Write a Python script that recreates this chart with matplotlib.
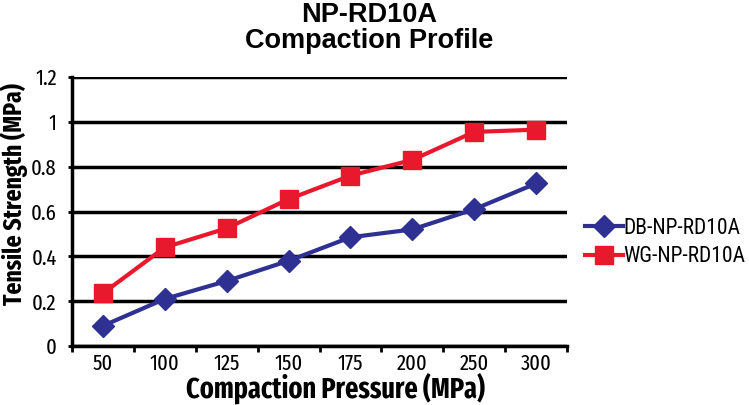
import matplotlib.pyplot as plt

pressure = ['50', '100', '125', '150', '175', '200', '250', '300']
db_strength = [0.09, 0.21, 0.29, 0.38, 0.485, 0.52, 0.61, 0.725]
wg_strength = [0.235, 0.44, 0.525, 0.655, 0.76, 0.83, 0.955, 0.965]

narrow = ['Fira Sans Extra Condensed', 'Roboto Condensed', 'DejaVu Sans']
plt.rcParams['font.family'] = ['Roboto Condensed', 'DejaVu Sans']

W, H = 749, 405
fig = plt.figure(figsize=(W / 100, H / 100), dpi=100)
ax = fig.add_axes([72 / W, 1 - 346 / H, (567 - 72) / W, (346 - 77) / H])

x = range(len(pressure))
ax.plot(x, db_strength, color='#2E3192', lw=3, marker='D', ms=11, label='DB-NP-RD10A')
ax.plot(x, wg_strength, color='#E8192C', lw=3, marker='s', ms=12.5, label='WG-NP-RD10A')

ax.set_xlim(-0.5, len(pressure) - 0.5)
ax.set_ylim(0, 1.2)
ax.set_yticks([0, 0.2, 0.4, 0.6, 0.8, 1, 1.2])
ax.set_yticklabels(['0', '0.2', '0.4', '0.6', '0.8', '1', '1.2'], family=narrow, fontsize=16)
ax.set_xticks(list(x))
ax.set_xticklabels(pressure, family=narrow, fontsize=16)
ax.set_xticks([i + 0.5 for i in range(-1, len(pressure))], minor=True)
ax.tick_params(axis='x', which='major', length=0, pad=5)
ax.tick_params(axis='x', which='minor', length=4, width=2, direction='out')
ax.tick_params(axis='y', length=3, width=2, pad=8)
ax.grid(axis='y', color='black', lw=2.5)
ax.set_axisbelow(True)
for s in ['top', 'right']:
    ax.spines[s].set_visible(False)
ax.spines['left'].set_linewidth(2.5)
ax.spines['bottom'].set_linewidth(2.5)

fig.text(336 / W, 1 - 388 / H, 'Compaction Pressure (MPa)', ha='center', va='center',
         family=narrow, fontsize=20.5, fontweight='bold')
fig.text(14 / W, 1 - 194 / H, 'Tensile Strength (MPa)', ha='center', va='center',
         rotation=90, family=narrow, fontsize=18.5, fontweight='bold')
fig.text(369 / W, 1 - 15 / H, 'NP-RD10A', ha='center', va='center',
         family=['Liberation Sans', 'DejaVu Sans'], fontsize=19.5, fontweight='bold')
fig.text(369 / W, 1 - 41 / H, 'Compaction Profile', ha='center', va='center',
         family=['Liberation Sans', 'DejaVu Sans'], fontsize=19.5, fontweight='bold')

fig.legend(loc='center left', bbox_to_anchor=(585 / W, 1 - 242.5 / H), frameon=False,
           fontsize=15.5, handlelength=1.75, handletextpad=0.05, labelspacing=0.35,
           borderaxespad=0, borderpad=0)

fig.savefig('out.png', dpi=100)
